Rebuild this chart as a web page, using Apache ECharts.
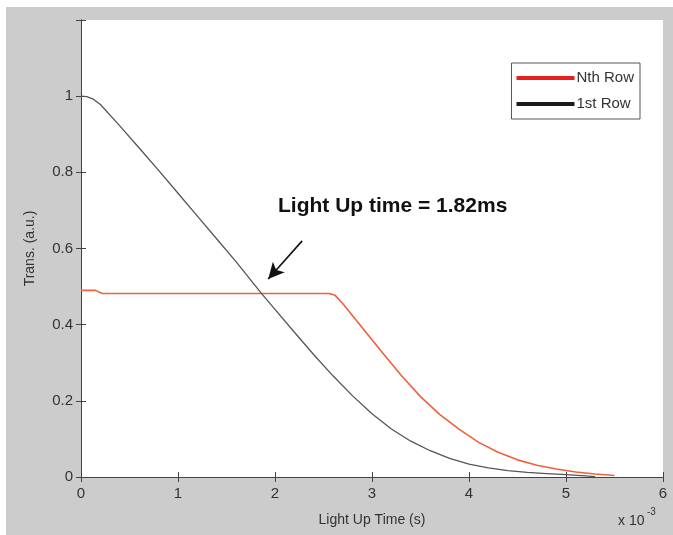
<!DOCTYPE html>
<html>
<head>
<meta charset="utf-8">
<script src="https://cdn.jsdelivr.net/npm/echarts@6/dist/echarts.min.js"></script>
<style>
  html, body { margin: 0; padding: 0; background: #fff; }
  #chart { width: 673px; height: 535px; }
</style>
</head>
<body>
<div id="chart"></div>
<script>
// 时间单位: 10^-3 s
var firstRowT = [0, 0.06, 0.12, 0.2, 0.4, 0.6, 0.8, 1.0, 1.2, 1.4, 1.6, 1.86, 2.0, 2.2, 2.4, 2.6, 2.8, 3.0, 3.2, 3.4, 3.6, 3.8, 4.0, 4.2, 4.4, 4.6, 4.8, 5.0, 5.2, 5.3];
var firstRowV = [1.0, 0.999, 0.993, 0.978, 0.922, 0.864, 0.805, 0.745, 0.685, 0.625, 0.565, 0.482, 0.44, 0.38, 0.321, 0.265, 0.213, 0.166, 0.126, 0.094, 0.069, 0.049, 0.034, 0.024, 0.017, 0.012, 0.009, 0.006, 0.003, 0.001];

var nthRowT = [0, 0.15, 0.22, 2.56, 2.62, 2.7, 2.9, 3.1, 3.3, 3.5, 3.7, 3.9, 4.1, 4.3, 4.5, 4.7, 4.9, 5.1, 5.3, 5.5];
var nthRowV = [0.49, 0.49, 0.482, 0.482, 0.477, 0.455, 0.392, 0.329, 0.267, 0.211, 0.164, 0.125, 0.091, 0.065, 0.045, 0.031, 0.021, 0.013, 0.008, 0.004];

var xTicks = [0, 1, 2, 3, 4, 5, 6];
var yTicks = [0, 0.2, 0.4, 0.6, 0.8, 1];

// 标注箭头（数据坐标）
var arrowFrom = [2.28, 0.62];
var arrowTo = [1.93, 0.52];

function zip(t, v) {
  return t.map(function (x, i) { return [x, v[i]]; });
}

var chart = echarts.init(document.getElementById('chart'));

var axisFont = { color: '#333', fontSize: 15, fontFamily: 'Liberation Sans' };
var boxLine = { lineStyle: { color: '#444', width: 1 } };

chart.setOption({
  backgroundColor: '#fff',
  animation: false,
  graphic: [
    { type: 'rect', left: 6, top: 7, z: -10, shape: { width: 667, height: 528 }, style: { fill: '#cccccc' } },
    { type: 'text', left: 278, top: 196, z: 100,
      style: { text: 'Light Up time = 1.82ms', font: 'bold 21px "Liberation Sans"', fill: '#111' } },
    { type: 'text', left: 618, top: 514,
      style: { text: 'x 10', font: '14px "Liberation Sans"', fill: '#333' } },
    { type: 'text', left: 647, top: 507,
      style: { text: '-3', font: '10px "Liberation Sans"', fill: '#333' } }
  ],
  grid: {
    left: 81, right: 10, top: 20, bottom: 58,
    show: true, backgroundColor: '#fff', borderWidth: 0
  },
  legend: {
    right: 33, top: 63,
    orient: 'vertical',
    backgroundColor: '#fff',
    borderColor: '#555', borderWidth: 1,
    padding: [6, 6, 6, 5],
    itemGap: 8,
    itemWidth: 58, itemHeight: 4,
    icon: 'rect',
    textStyle: { fontSize: 15, lineHeight: 18, color: '#333', fontFamily: 'Liberation Sans', padding: [0, 0, 0, -3] },
    data: [
      { name: 'Nth Row', itemStyle: { color: '#e8201c' } },
      { name: '1st Row', itemStyle: { color: '#1a1a1a' } }
    ]
  },
  xAxis: [
    {
      type: 'value', min: xTicks[0], max: xTicks[xTicks.length - 1], interval: 1,
      name: 'Light Up Time (s)', nameLocation: 'middle', nameGap: 36,
      nameTextStyle: { fontSize: 14, color: '#333', fontFamily: 'Liberation Sans' },
      axisLine: boxLine,
      axisTick: { inside: true, length: 5, lineStyle: { color: '#444' } },
      axisLabel: Object.assign({ margin: 9 }, axisFont),
      splitLine: { show: false }
    },
    {
      type: 'value', position: 'top', min: xTicks[0], max: xTicks[xTicks.length - 1], interval: 1,
      axisLine: boxLine,
      axisTick: { inside: true, length: 5, lineStyle: { color: '#444' } },
      axisLabel: { show: false },
      splitLine: { show: false }
    }
  ],
  yAxis: [
    {
      type: 'value', min: 0, max: 1.2, interval: 0.2,
      name: 'Trans. (a.u.)', nameLocation: 'middle', nameGap: 44,
      nameTextStyle: { fontSize: 14, color: '#333', fontFamily: 'Liberation Sans' },
      axisLine: boxLine,
      axisTick: { inside: true, length: 5, lineStyle: { color: '#444' } },
      axisLabel: Object.assign({
        margin: 8,
        formatter: function (v) { return yTicks.indexOf(Math.round(v * 10) / 10) >= 0 ? String(Math.round(v * 10) / 10) : ''; }
      }, axisFont),
      splitLine: { show: false }
    },
    {
      type: 'value', position: 'right', min: 0, max: 1.2, interval: 0.2,
      axisLine: boxLine,
      axisTick: { inside: true, length: 5, lineStyle: { color: '#444' } },
      axisLabel: { show: false },
      splitLine: { show: false }
    }
  ],
  series: [
    {
      name: 'Nth Row', type: 'line', showSymbol: false,
      lineStyle: { color: '#f0603e', width: 1.6 },
      itemStyle: { color: '#e8201c' },
      data: zip(nthRowT, nthRowV)
    },
    {
      name: '1st Row', type: 'line', showSymbol: false,
      lineStyle: { color: '#555', width: 1.3 },
      itemStyle: { color: '#1a1a1a' },
      data: zip(firstRowT, firstRowV),
      markLine: {
        silent: true, animation: false,
        symbol: ['none', 'arrow'], symbolSize: [12, 16],
        label: { show: false },
        lineStyle: { color: '#111', width: 1.6, type: 'solid' },
        data: [[{ coord: arrowFrom }, { coord: arrowTo }]]
      }
    }
  ]
});
</script>
</body>
</html>
